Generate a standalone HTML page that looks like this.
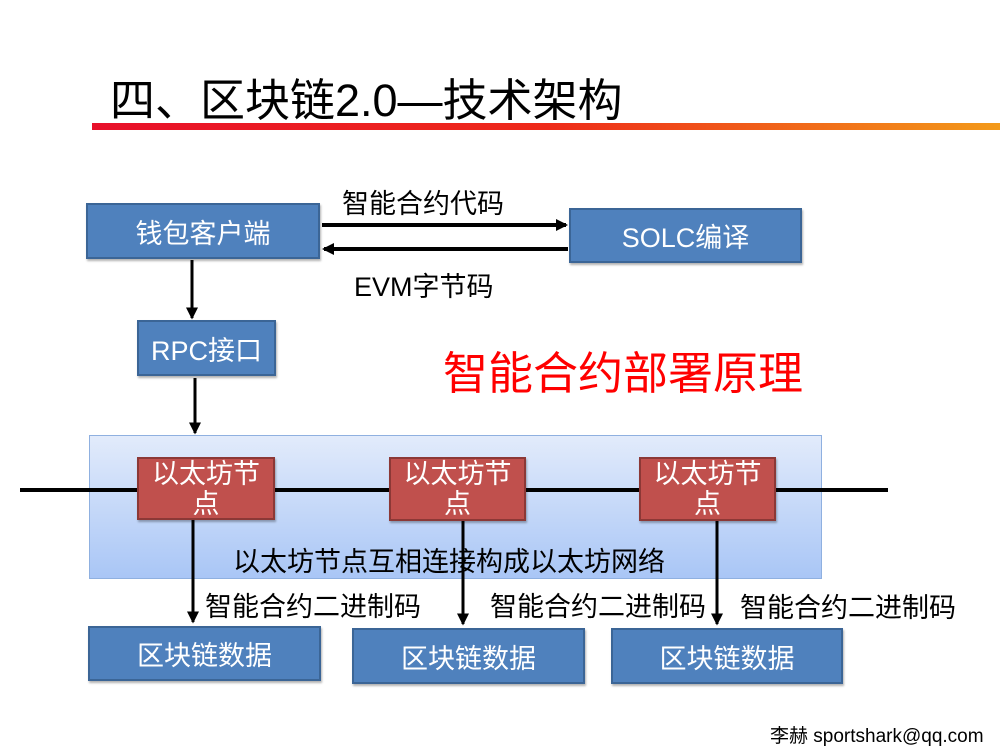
<!DOCTYPE html>
<html><head><meta charset="utf-8"><style>
body{margin:0;width:1000px;height:750px;background:#fff;position:relative;overflow:hidden;font-family:"Liberation Sans","Noto Sans CJK SC",sans-serif}
.a{position:absolute}
.b{position:absolute;background:#4f81bd;border:2px solid #3b6596;color:#fff;font-size:27px;display:flex;align-items:center;justify-content:center;box-sizing:border-box;box-shadow:1px 2px 2px rgba(0,0,0,.3);white-space:nowrap}
.r{position:absolute;background:#c0504d;border:2px solid #8c3836;color:#fff;font-size:27px;text-align:center;line-height:30px;box-sizing:border-box;box-shadow:1px 2px 2px rgba(0,0,0,.3)}
.t{position:absolute;font-size:27px;color:#000;white-space:nowrap}
</style></head><body>
<div class="a" style="left:110px;top:64px;font-size:45px;white-space:nowrap">四、区块链2.0—技术架构</div>
<div class="a" style="left:92px;top:123px;width:908px;height:7px;background:linear-gradient(90deg,#e8102a,#ee2a1a 50%,#f39a1a)"></div>
<div class="a" style="left:89px;top:435px;width:733px;height:144px;background:linear-gradient(#e2ebfb,#a9c6f6);border:1px solid #8fb0e0;box-sizing:border-box"></div>
<svg class="a" style="left:0;top:0" width="1000" height="750">
<defs><marker id="m" markerWidth="4" markerHeight="4" refX="3.5" refY="2" orient="auto" markerUnits="strokeWidth"><path d="M0,0L4,2L0,4z" fill="#000"/></marker>
<marker id="s" markerWidth="3" markerHeight="3" refX="2.5" refY="1.5" orient="auto" markerUnits="strokeWidth"><path d="M0,0L3,1.5L0,3z" fill="#000"/></marker></defs>
<g stroke="#000" fill="none">
<line x1="322" y1="225" x2="566" y2="225" stroke-width="4" marker-end="url(#s)"/>
<line x1="568" y1="249" x2="324" y2="249" stroke-width="4" marker-end="url(#s)"/>
<line x1="192" y1="260" x2="192" y2="318" stroke-width="3" marker-end="url(#m)"/>
<line x1="195" y1="378" x2="195" y2="433" stroke-width="3" marker-end="url(#m)"/>
<line x1="20" y1="490" x2="888" y2="490" stroke-width="4"/>
<line x1="193" y1="520" x2="193" y2="622" stroke-width="3" marker-end="url(#m)"/>
<line x1="463" y1="520" x2="463" y2="624" stroke-width="3" marker-end="url(#m)"/>
<line x1="717" y1="520" x2="717" y2="624" stroke-width="3" marker-end="url(#m)"/>
</g></svg>
<div class="b" style="left:86px;top:203px;width:234px;height:56px">钱包客户端</div>
<div class="b" style="left:569px;top:208px;width:233px;height:55px">SOLC编译</div>
<div class="t" style="left:342px;top:182px">智能合约代码</div>
<div class="t" style="left:354px;top:265px">EVM字节码</div>
<div class="b" style="left:137px;top:320px;width:139px;height:56px">RPC接口</div>
<div class="a" style="left:443px;top:337px;font-size:45px;color:#ff0000;white-space:nowrap">智能合约部署原理</div>
<div class="r" style="left:137px;top:457px;width:138px;height:63px">以太坊节<br>点</div>
<div class="r" style="left:389px;top:457px;width:137px;height:64px">以太坊节<br>点</div>
<div class="r" style="left:639px;top:457px;width:137px;height:64px">以太坊节<br>点</div>
<div class="t" style="left:233px;top:540px">以太坊节点互相连接构成以太坊网络</div>
<div class="t" style="left:205px;top:585px">智能合约二进制码</div>
<div class="t" style="left:490px;top:585px">智能合约二进制码</div>
<div class="t" style="left:740px;top:586px">智能合约二进制码</div>
<div class="b" style="left:88px;top:626px;width:233px;height:55px">区块链数据</div>
<div class="b" style="left:352px;top:628px;width:233px;height:56px">区块链数据</div>
<div class="b" style="left:611px;top:628px;width:232px;height:56px">区块链数据</div>
<div class="a" style="left:770px;top:721px;font-size:19px;white-space:nowrap">李赫 sportshark@qq.com</div>
</body></html>
